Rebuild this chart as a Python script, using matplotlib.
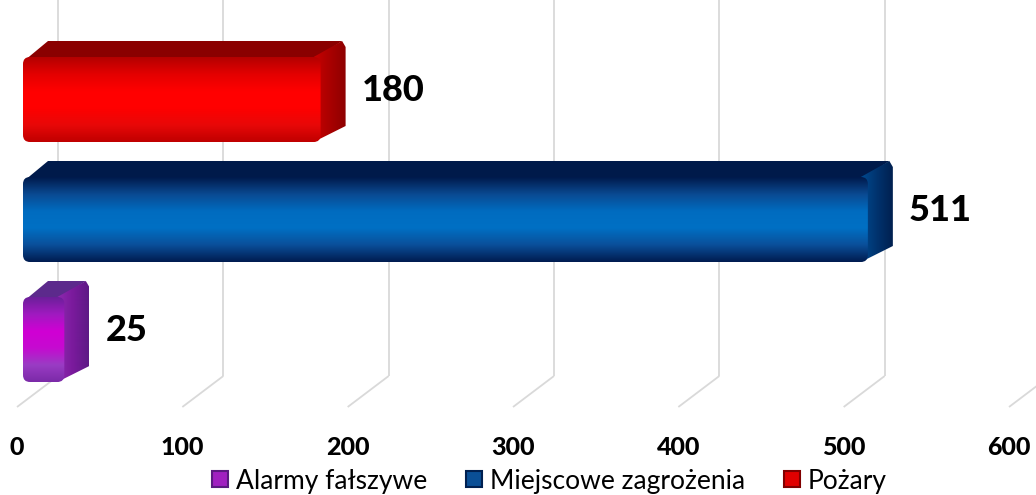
import numpy as np
import matplotlib
matplotlib.use("Agg")
import matplotlib.pyplot as plt
from matplotlib.patches import FancyBboxPatch, Polygon, Patch
from matplotlib.colors import LinearSegmentedColormap

# ---- data ----
categories = ["Alarmy fałszywe", "Miejscowe zagrożenia", "Pożary"]
values = [25, 511, 180]
tick_values = [0, 100, 200, 300, 400, 500, 600]
tick_labels = ["0", "100", "200", "300", "400", "500", "600"]

# ---- styles ----
front_grad = [
    ["#7b2aa8", "#9a3cc4", "#c60ad0", "#d000d4", "#a01ac0", "#6c1f9a"],
    ["#001c50", "#0a4f9a", "#0070c4", "#006cc0", "#0a4a92", "#001a4c"],
    ["#c00000", "#e80808", "#ff0000", "#ff0000", "#e40000", "#b40000"],
]
top_col = ["#5c2a8c", "#001a4a", "#8a0000"]
side_grad = [
    ["#8e2ab0", "#7a1a9c", "#5e1a86"],
    ["#004a90", "#00336e", "#002050"],
    ["#c80000", "#a80000", "#8c0000"],
]
legend_face = ["#a020c0", "#0a4f96", "#e00000"]
legend_edge = ["#5a1a80", "#002050", "#800000"]

plt.rcParams["font.family"] = ["Lato", "DejaVu Sans"]

W, H, DPI = 1036, 495, 100
fig = plt.figure(figsize=(W / DPI, H / DPI), dpi=DPI)
floor_px = 407
ax = fig.add_axes([0, (H - floor_px) / H, 1, floor_px / H])

PX_X = 992 / 600.0      # pixels per value unit
PX_Y = 120.0            # pixels per category slot
def dx(p):
    return p / PX_X
def dy(p):
    return p / PX_Y

xlim = (-17 / PX_X, (W - 17) / PX_X)
ylim = ((339.5 - floor_px) / PX_Y, 339.5 / PX_Y)

# gridlines (floor + back wall)
GX, GY = dx(41), dy(31)
y0 = ylim[0]
for v in tick_values:
    ax.plot([v, v + GX], [y0, y0 + GY], color="#d9d9d9", lw=1.3, zorder=1,
            solid_capstyle="butt", clip_on=False)
    ax.plot([v + GX, v + GX], [y0 + GY, ylim[1]], color="#d9d9d9", lw=1.3,
            zorder=1, solid_capstyle="butt")

BX, BY = dx(25), dy(16)
HALF = dy(42.5)
R = dx(7)
for i, (cat, v) in enumerate(zip(categories, values)):
    x0 = dx(6)
    x1 = dx(6) + v
    yb, yt = i - HALF, i + HALF
    # top face
    top = Polygon([(x0 + R * 0.3, yt - dy(3)), (x1 - R, yt - dy(3)),
                   (x1 + BX - R * 0.5, yt + BY), (x0 + BX, yt + BY)],
                  closed=True, facecolor=top_col[i], edgecolor="none", zorder=3)
    ax.add_patch(top)
    # side face with gradient
    sx = x1 - R
    side = Polygon([(sx, yb), (sx, yt), (x1 - R * 0.5 + BX, yt + BY),
                    (x1 + BX, yt + BY - dy(6)), (x1 + BX, yb + BY)],
                   closed=True, facecolor="none", edgecolor="none", zorder=3)
    ax.add_patch(side)
    cm_s = LinearSegmentedColormap.from_list("s%d" % i, side_grad[i])
    im = ax.imshow(np.linspace(0, 1, 64).reshape(1, -1), cmap=cm_s,
                   extent=[sx, x1 + BX, yb, yt + BY], aspect="auto",
                   interpolation="bicubic", zorder=3)
    im.set_clip_path(side)
    # front face with vertical gradient
    front = FancyBboxPatch((x0, yb), x1 - x0, yt - yb,
                           boxstyle="round,pad=0,rounding_size=%f" % R,
                           mutation_aspect=PX_X / PX_Y,
                           facecolor="none", edgecolor="none", zorder=4)
    ax.add_patch(front)
    cm_f = LinearSegmentedColormap.from_list("f%d" % i, front_grad[i])
    im = ax.imshow(np.linspace(1, 0, 128).reshape(-1, 1), cmap=cm_f,
                   extent=[x0, x1, yb, yt], aspect="auto",
                   interpolation="bicubic", zorder=4)
    im.set_clip_path(front)
    # value label
    ax.text(x1 + BX + dx(16), i + dy(9), str(v), ha="left", va="center",
            fontsize=26, fontweight="black", color="black", zorder=5)

ax.set_xlim(*xlim)
ax.set_ylim(*ylim)
ax.set_xticks(tick_values)
ax.set_xticklabels(tick_labels, fontsize=18, fontweight="black")
ax.set_yticks([])
ax.tick_params(axis="x", length=0, pad=21)
for s in ax.spines.values():
    s.set_visible(False)
ax.patch.set_alpha(0)

handles = [Patch(facecolor=legend_face[k], edgecolor=legend_edge[k], lw=1.5)
           for k in range(3)]
fig.legend(handles, categories, loc="center", bbox_to_anchor=(549.5 / W, (H - 481) / H),
           ncol=3, frameon=False, fontsize=19, handlelength=0.58, handleheight=0.58,
           handletextpad=0.3, columnspacing=1.5, borderaxespad=0, borderpad=0)

fig.savefig("out.png", dpi=DPI)
